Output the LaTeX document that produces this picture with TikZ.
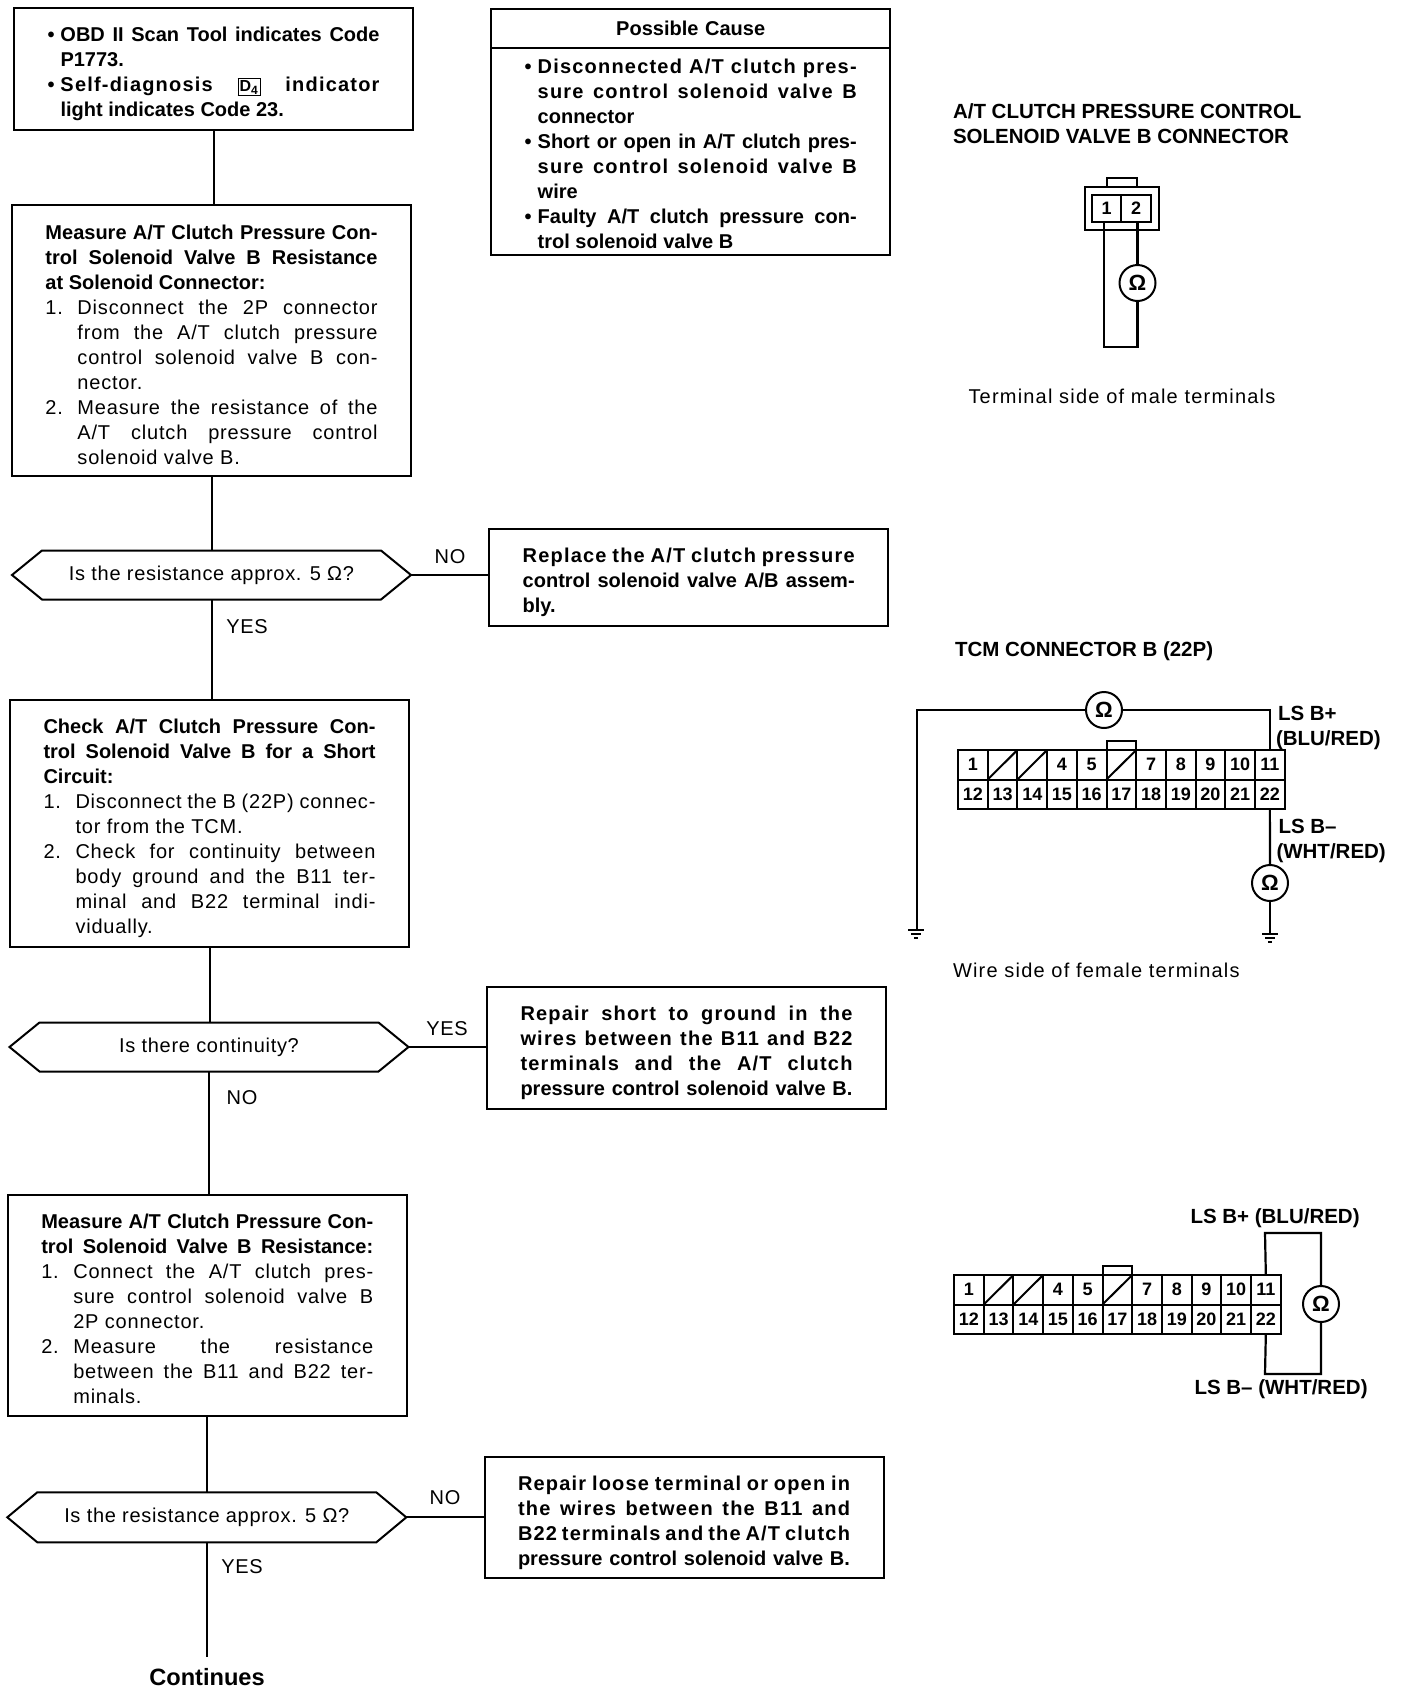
\documentclass[tikz,border=0pt]{standalone}
\usepackage{fontspec}
\setmainfont{Liberation Sans}
\newfontfamily\rs[LetterSpace=4]{Liberation Sans}
\newfontfamily\rh[LetterSpace=3.5]{Liberation Sans}
\newfontfamily\rc[LetterSpace=6]{Liberation Sans}
\newfontfamily\bs[LetterSpace=6]{Liberation Sans}
\newcommand\Ln[2]{\hbox to 166pt{\spaceskip=0pt\xspaceskip=0pt\hskip#1\relax #2}}
\newcommand\It[3]{\hbox to 166pt{\spaceskip=0pt\xspaceskip=0pt\hbox to #2{#1\hfil}#3}}
\tikzset{
  flowbox/.style={draw,line width=1pt,inner xsep=0pt,inner ysep=0pt,outer sep=0pt,
    text width=166pt,minimum width=199.5pt,font=\fontsize{10}{12.5}\selectfont},
  hexnode/.style={inner sep=0pt,outer sep=0pt,minimum width=199.5pt,minimum height=24.5pt,
    font=\rh\fontsize{10}{12.5}\selectfont},
  lab/.style={inner sep=0pt,outer sep=0pt,font=\rh\fontsize{10}{12.5}\selectfont},
  ttl/.style={inner sep=0pt,outer sep=0pt,anchor=base west,font=\bfseries\fontsize{10.25}{12.5}\selectfont},
  captxt/.style={inner sep=0pt,outer sep=0pt,anchor=base west,font=\rc\fontsize{10}{12.5}\selectfont},
  cell/.style={draw,line width=1pt,inner sep=0pt,outer sep=0pt,minimum width=14.85pt,minimum height=14.75pt,
    font=\bfseries\fontsize{9}{10}\selectfont},
  meter/.style={draw,circle,line width=1pt,inner sep=0pt,outer sep=0pt,minimum size=18pt,
    font=\bfseries\fontsize{11}{12}\selectfont},
  wire/.style={line width=1.1pt},
  link/.style={line width=1pt}
}
\newcommand\hexa[1]{\draw[link] (#1.west) -- ([xshift=15pt]#1.north west) -- ([xshift=-15pt]#1.north east)
  -- (#1.east) -- ([xshift=-15pt]#1.south east) -- ([xshift=15pt]#1.south west) -- cycle;}
\newcommand\tcm[3]{%
  \foreach \i/\l in {1/1,2/{},3/{},4/4,5/5,6/{},7/7,8/8,9/9,10/10,11/11}
    \node[cell] (#1\i) at ({#2+29.7*(\i-0.5)},{#3+14.75}) {\l};
  \foreach \i in {1,...,11}{
    \pgfmathtruncatemacro\nn{\i+11}
    \node[cell] (#1\nn) at ({#2+29.7*(\i-0.5)},{#3+44.25}) {\nn};
  }
  \foreach \i in {2,3,6}
    \draw[line width=1pt] (#1\i.south west) -- (#1\i.north east);
  \draw[line width=1pt] (#16.north west) -- ++(0,-9) -| (#16.north east);
}
\newcommand\gnd[1]{%
  \draw[line width=0.8pt] ([xshift=-4pt]#1) -- ([xshift=4pt]#1);
  \draw[line width=0.8pt] ([xshift=-2.5pt,yshift=-2pt]#1) -- ([xshift=2.5pt,yshift=-2pt]#1);
  \draw[line width=0.8pt] ([xshift=-1pt,yshift=-4pt]#1) -- ([xshift=1pt,yshift=-4pt]#1);
}
\begin{document}
\begin{tikzpicture}[x=0.5pt,y=-0.5pt]
\useasboundingbox (0,0) rectangle (1408,1692);

% Left column
\node[flowbox,minimum height=61pt] (b1) at (213.5,68.5) {\vskip0pt\bfseries
  \It{•}{6.5pt}{OBD II Scan Tool indicates Code}
  \Ln{6.5pt}{P1773.\hfil}
  \It{•}{6.5pt}{\bs Self-diagnosis {\setlength\fboxsep{0.6pt}\fbox{\fontsize{8}{8}\selectfont D\textsubscript{4}}} indicator}
  \Ln{6.5pt}{light indicates Code 23.\hfil}};

\node[flowbox,minimum height=135.5pt] (b2) at (211.5,340.5) {\vskip-1pt
  {\bfseries
  \Ln{0pt}{Measure A/T Clutch Pressure Con-}
  \Ln{0pt}{trol Solenoid Valve B Resistance}
  \Ln{0pt}{at Solenoid Connector:\hfil}}
  \rs
  \It{1.}{16pt}{Disconnect the 2P connector}
  \Ln{16pt}{from the A/T clutch pressure}
  \Ln{16pt}{control solenoid valve B con-}
  \Ln{16pt}{nector.\hfil}
  \It{2.}{16pt}{Measure the resistance of the}
  \Ln{16pt}{A/T clutch pressure control}
  \Ln{16pt}{solenoid valve B.\hfil}};

\node[hexnode] (d1) at (211.5,575) {\raisebox{-1pt}{Is the resistance approx. 5 Ω?}};
\hexa{d1}

\node[flowbox,minimum height=123.5pt] (b3) at (209.5,823) {\vskip0pt
  {\bfseries
  \Ln{0pt}{Check A/T Clutch Pressure Con-}
  \Ln{0pt}{trol Solenoid Valve B for a Short}
  \Ln{0pt}{Circuit:\hfil}}
  \rs
  \It{1.}{16pt}{Disconnect the B (22P) connec-}
  \Ln{16pt}{tor from the TCM.\hfil}
  \It{2.}{16pt}{Check for continuity between}
  \Ln{16pt}{body ground and the B11 ter-}
  \Ln{16pt}{minal and B22 terminal indi-}
  \Ln{16pt}{vidually.\hfil}};

\node[hexnode] (d2) at (209,1047) {\raisebox{-1pt}{Is there continuity?}};
\hexa{d2}

\node[flowbox,minimum height=110.5pt] (b4) at (207.3,1305.7) {\vskip-2pt
  {\bfseries
  \Ln{0pt}{Measure A/T Clutch Pressure Con-}
  \Ln{0pt}{trol Solenoid Valve B Resistance:}}
  \rs
  \It{1.}{16pt}{Connect the A/T clutch pres-}
  \Ln{16pt}{sure control solenoid valve B}
  \Ln{16pt}{2P connector.\hfil}
  \It{2.}{16pt}{Measure the resistance}
  \Ln{16pt}{between the B11 and B22 ter-}
  \Ln{16pt}{minals.\hfil}};

\node[hexnode,minimum height=25pt] (d3) at (206.8,1517.3) {\raisebox{-0.5pt}{Is the resistance approx. 5 Ω?}};
\hexa{d3}

\node[inner sep=0pt,outer sep=0pt,anchor=base,font=\bfseries\fontsize{11.8}{13}\selectfont] (cont) at (207,1685) {Continues};
\coordinate (contend) at (206,1657);

% Middle column
\node[flowbox,minimum height=19.5pt,align=center] (pchead) at (690.7,28) {\bfseries Possible Cause};
\node[flowbox,minimum height=103.6pt] (pcbody) at (690.7,151.2) {\vskip-3pt\bfseries
  \It{•}{6.5pt}{\bs Disconnected A/T clutch pres-}
  \Ln{6.5pt}{\bs sure control solenoid valve B}
  \Ln{6.5pt}{connector\hfil}
  \It{•}{6.5pt}{Short or open in A/T clutch pres-}
  \Ln{6.5pt}{\bs sure control solenoid valve B}
  \Ln{6.5pt}{wire\hfil}
  \It{•}{6.5pt}{Faulty A/T clutch pressure con-}
  \Ln{6.5pt}{trol solenoid valve B\hfil}};

\node[flowbox,minimum height=48.5pt] (r1) at (688.7,577.5) {\vskip0pt\bfseries
  \Ln{0pt}{\bs Replace the A/T clutch pressure}
  \Ln{0pt}{control solenoid valve A/B assem-}
  \Ln{0pt}{bly.\hfil}};
\node[flowbox,minimum height=61pt] (r2) at (686.5,1047.6) {\vskip0pt\bfseries
  \Ln{0pt}{\bs Repair short to ground in the}
  \Ln{0pt}{\bs wires between the B11 and B22}
  \Ln{0pt}{\bs terminals and the A/T clutch}
  \Ln{0pt}{pressure control solenoid valve B.}};
\node[flowbox,minimum height=60.5pt] (r3) at (684,1517.7) {\vskip0pt\bfseries
  \Ln{0pt}{\bs Repair loose terminal or open in}
  \Ln{0pt}{\bs the wires between the B11 and}
  \Ln{0pt}{\bs B22 terminals and the A/T clutch}
  \Ln{0pt}{pressure control solenoid valve B.}};

% Flow connectors
\draw[link] (b1.south) -- (b1.south |- b2.north);
\draw[link] (b2.south) -- (b2.south |- d1.north);
\draw[link] (d1.south) -- (d1.south |- b3.north);
\draw[link] (b3.south) -- (b3.south |- d2.north);
\draw[link] (d2.south) -- (d2.south |- b4.north);
\draw[link] (b4.south) -- (b4.south |- d3.north);
\draw[link] (d3.south) -- (d3.south |- contend);
\draw[link] (d1.east) -- (d1.east -| r1.west);
\draw[link] (d2.east) -- (d2.east -| r2.west);
\draw[link] (d3.east) -- (d3.east -| r3.west);

\node[lab] (no1) at (450,557) {NO};
\node[lab] (yes1) at (247,627) {YES};
\node[lab] (yes2) at (447,1029) {YES};
\node[lab] (no2) at (242,1098) {NO};
\node[lab] (no3) at (445,1498) {NO};
\node[lab] (yes3) at (242,1567) {YES};

% Solenoid connector
\node[ttl] (t1a) at (953,118) {A/T CLUTCH PRESSURE CONTROL};
\node[ttl] (t1b) at (953,143) {SOLENOID VALVE B CONNECTOR};
\node[draw,line width=1pt,inner sep=0pt,outer sep=0pt,minimum width=37pt,minimum height=21.5pt] (sol) at (1122,208.5) {};
\node[cell,minimum width=14.75pt,minimum height=13.5pt] (s1) at (1106.5,208.5) {1};
\node[cell,minimum width=14.75pt,minimum height=13.5pt] (s2) at (1136,208.5) {2};
\draw[line width=1pt] ([xshift=-7.5pt]sol.north) -- ++(0,-9) -- ++(30,0) -- ([xshift=7.5pt]sol.north);
\node[meter] (om0) at (1137.5,283) {Ω};
\coordinate (solb) at (1104,347);
\draw[wire] (om0.north |- s2.south) -- (om0.north);
\draw[wire] (om0.south) |- (solb) -- (solb |- s1.south);
\node[captxt] (c1) at (968.5,403) {Terminal side of male terminals};

% TCM connector, top
\node[ttl] (t2) at (955,656) {TCM CONNECTOR B (22P)};
\tcm{a}{958}{750}
\node[meter] (om1) at (1104,710) {Ω};
\coordinate (g1) at (916,930);
\coordinate (g1c) at (917,710);
\draw[wire] (om1.west) -- (g1c) -- (g1c |- g1);
\gnd{g1}
\draw[wire] (om1.east) -| (a11.north);
\node[meter] (om2) at (1270,883) {Ω};
\draw[wire] (a22.south) -- (om2.north);
\coordinate (g2) at (1270,934);
\draw[wire] (om2.south) -- (g2);
\gnd{g2}
\node[ttl] (lp) at (1278,720) {LS B+};
\node[ttl] (lpc) at (1276,745) {(BLU/RED)};
\node[ttl] (lm) at (1278.5,833) {LS B–};
\node[ttl] (lmc) at (1276.5,858) {(WHT/RED)};
\node[captxt] (c2) at (953,977) {Wire side of female terminals};

% TCM connector, bottom
\tcm{k}{954}{1275}
\node[meter] (om3) at (1321,1304) {Ω};
\coordinate (lt) at (1265,1233);
\coordinate (lb) at (1265,1374);
\draw[wire] (k11.north) -- (lt) -| (om3.north);
\draw[wire] (k22.south) -- (lb) -| (om3.south);
\node[ttl] (lq) at (1190.5,1223) {LS B+ (BLU/RED)};
\node[ttl] (lr) at (1194.5,1394) {LS B– (WHT/RED)};
\end{tikzpicture}
\end{document}
